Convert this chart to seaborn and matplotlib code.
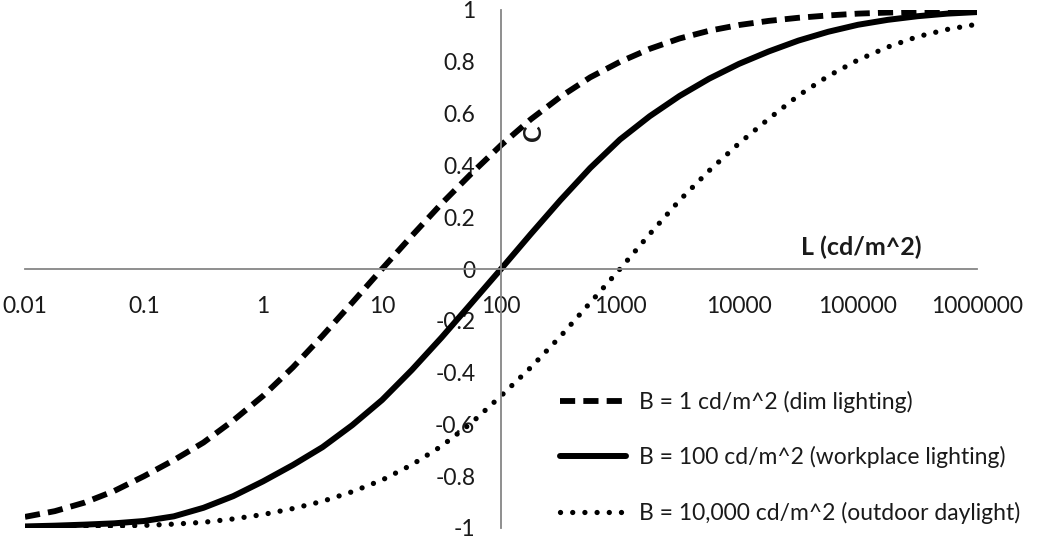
import matplotlib
matplotlib.use("Agg")
import matplotlib.pyplot as plt
import seaborn as sns

# luminance values (cd/m^2), quarter-decade steps
L = [0.01, 0.0178, 0.0316, 0.0562, 0.1, 0.178, 0.316, 0.562,
     1, 1.78, 3.16, 5.62, 10, 17.8, 31.6, 56.2,
     100, 178, 316, 562, 1000, 1778, 3162, 5623,
     10000, 17783, 31623, 56234, 100000, 177828, 316228, 562341, 1000000]

c_dim = [-0.957, -0.935, -0.902, -0.857, -0.80, -0.738, -0.67, -0.585,
         -0.49, -0.38, -0.258, -0.13, 0.0, 0.128, 0.252, 0.368,
         0.478, 0.578, 0.665, 0.74, 0.80, 0.85, 0.89, 0.92,
         0.942, 0.958, 0.97, 0.979, 0.986, 0.99, 0.993, 0.995, 0.996]
c_work = [-0.994, -0.991, -0.987, -0.982, -0.973, -0.955, -0.922, -0.877,
          -0.82, -0.757, -0.688, -0.603, -0.506, -0.39, -0.265, -0.133,
          0.0, 0.135, 0.266, 0.39, 0.50, 0.59, 0.668, 0.735,
          0.792, 0.84, 0.882, 0.916, 0.943, 0.962, 0.976, 0.986, 0.992]
c_out = [-0.998, -0.997, -0.996, -0.994, -0.99, -0.985, -0.978, -0.965,
         -0.948, -0.925, -0.897, -0.86, -0.815, -0.756, -0.684, -0.595,
         -0.49, -0.38, -0.26, -0.13, 0.0, 0.135, 0.265, 0.38,
         0.485, 0.58, 0.67, 0.745, 0.807, 0.857, 0.897, 0.925, 0.945]

labels = ["B = 1 cd/m^2 (dim lighting)",
          "B = 100 cd/m^2 (workplace lighting)",
          "B = 10,000 cd/m^2 (outdoor daylight)"]

x_ticks = [0.01, 0.1, 1, 10, 100, 1000, 10000, 100000, 1000000]
x_ticklabels = ["0.01", "0.1", "1", "10", "100", "1000", "10000", "100000", "1000000"]
y_ticks = [-1, -0.8, -0.6, -0.4, -0.2, 0, 0.2, 0.4, 0.6, 0.8, 1]
y_ticklabels = ["-1", "-0.8", "-0.6", "-0.4", "-0.2", "0", "0.2", "0.4", "0.6", "0.8", "1"]

sns.set_style("white")
plt.rcParams['font.family'] = ['Lato', 'DejaVu Sans']

fig = plt.figure(figsize=(10.5, 5.4), dpi=100)
ax = fig.add_axes([25 / 1050, 12 / 540, 952 / 1050, 518 / 540])

axis_grey = '#868686'
text_col = '#1a1a1a'

sns.lineplot(x=L, y=c_dim, ax=ax, color='black', lw=4.2,
             linestyle=(0, (2.6, 1.4)), dash_capstyle='butt', label=labels[0])
sns.lineplot(x=L, y=c_work, ax=ax, color='black', lw=4.3,
             linestyle='-', label=labels[1])
sns.lineplot(x=L, y=c_out, ax=ax, color='black', lw=3.8,
             linestyle=(0, (0.01, 2.3)), dash_capstyle='round', label=labels[2])

ax.set_xscale('log')
ax.set_xlim(0.01, 1e6)
ax.set_ylim(-1, 1)

# axes crossing at (100, 0)
ax.spines['left'].set_position(('data', 100))
ax.spines['bottom'].set_position(('data', 0))
ax.spines['top'].set_visible(False)
ax.spines['right'].set_visible(False)
for s in ['left', 'bottom']:
    ax.spines[s].set_color(axis_grey)
    ax.spines[s].set_linewidth(1.3)

ax.set_xticks(x_ticks)
ax.set_xticklabels(x_ticklabels)
ax.minorticks_off()
ax.set_yticks(y_ticks)
ax.set_yticklabels(y_ticklabels)
ax.tick_params(axis='both', direction='out', length=6.5, width=1.3,
               color=axis_grey, labelsize=16.5, labelcolor=text_col)
ax.tick_params(axis='x', pad=13)
ax.tick_params(axis='y', pad=12)
ax.set_xlabel('')
ax.set_ylabel('')

ax.text(1.07e5, 0.085, 'L (cd/m^2)', ha='center', va='center',
        fontsize=18, fontweight='bold', color=text_col)
ax.text(186, 0.525, 'C', ha='center', va='center', rotation=90,
        fontsize=18, fontweight='bold', color=text_col)

leg = ax.legend(loc='upper left', bbox_to_anchor=(560 / 1050, 1 - 391 / 540),
                bbox_transform=fig.transFigure, frameon=False, fontsize=16.5,
                handlelength=2.9, handletextpad=0.55, labelspacing=1.45,
                borderpad=0, borderaxespad=0)
for t in leg.get_texts():
    t.set_color(text_col)

fig.savefig('out.png', dpi=100)
plt.close(fig)
